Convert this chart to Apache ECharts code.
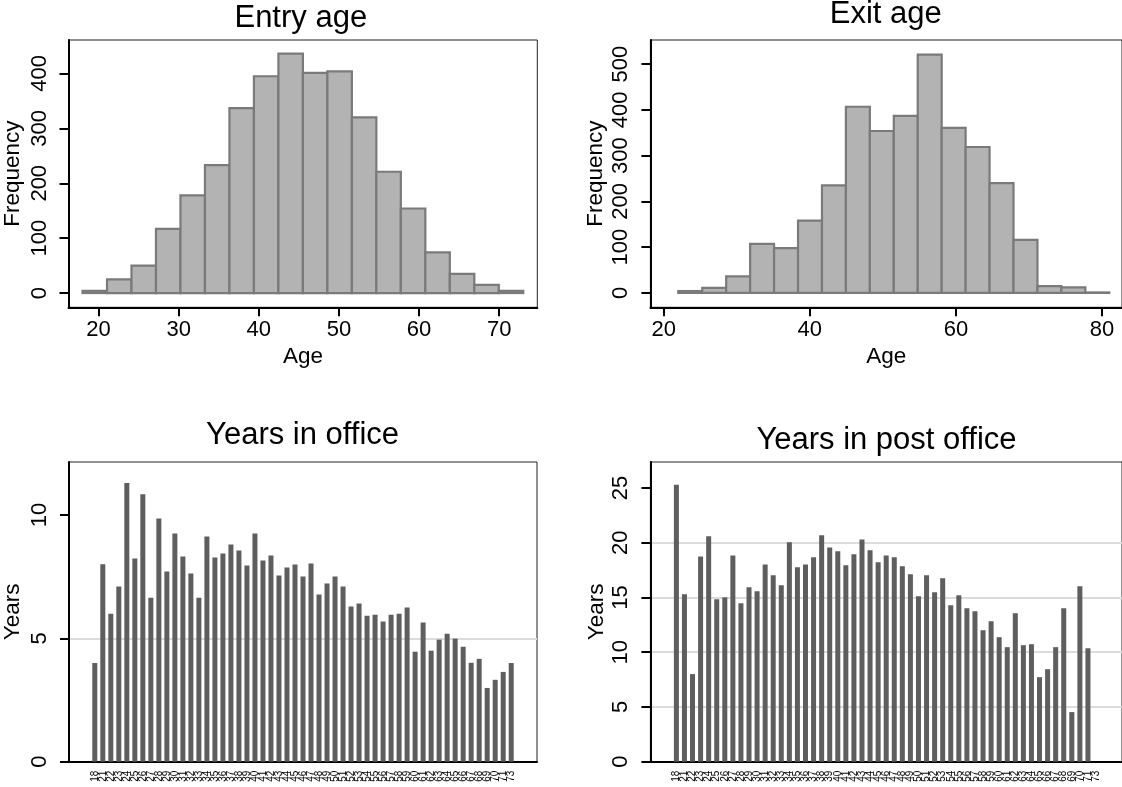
<!DOCTYPE html>
<html>
<head>
<meta charset="utf-8">
<script src="https://cdn.jsdelivr.net/npm/echarts@6/dist/echarts.min.js"></script>
<style>
  html, body { margin: 0; padding: 0; background: #fff; }
  #chart { width: 1122px; height: 787px; }
</style>
</head>
<body>
<div id="chart"></div>
<script>
// ---- data ---------------------------------------------------------------
// Entry age histogram: 18 equal-width bins from 18 to 73
const entryBinStart = 18;
const entryBinEnd = 73;
const entryCounts = [4, 25, 50, 117, 178, 233, 337, 395, 436, 401, 404, 320, 221, 154, 74, 35, 15, 4];
const entryAgeTicks = [20, 30, 40, 50, 60, 70];
const entryFreqTicks = [0, 100, 200, 300, 400];

// Exit age histogram: 18 equal-width bins from 22 to 81
const exitBinStart = 22;
const exitBinEnd = 81;
const exitCounts = [4, 11, 36, 107, 98, 158, 235, 407, 354, 387, 521, 361, 319, 240, 116, 15, 12, 1];
const exitAgeTicks = [20, 40, 60, 80];
const exitFreqTicks = [0, 100, 200, 300, 400, 500];

// Age groups shared by both bar panels
const ageGroups = ['18', '21', '22', '23', '24', '25', '26', '27', '28', '29', '30', '31', '32', '33', '34',
  '35', '36', '37', '38', '39', '40', '41', '42', '43', '44', '45', '46', '47', '48', '49', '50', '51', '52',
  '53', '54', '55', '56', '57', '58', '59', '60', '61', '62', '63', '64', '65', '66', '67', '68', '69', '70',
  '71', '73'];

// Mean years in office per age group
const officeYears = [4.0, 8.0, 6.0, 7.1, 11.3, 8.24, 10.84, 6.65, 9.86, 7.71, 9.25, 8.32, 7.63, 6.65, 9.13,
  8.28, 8.44, 8.81, 8.56, 7.95, 9.25, 8.16, 8.36, 7.55, 7.87, 7.99, 7.51, 8.04, 6.78, 7.22, 7.51, 7.1, 6.29,
  6.41, 5.92, 5.96, 5.68, 5.96, 6.0, 6.25, 4.46, 5.64, 4.5, 4.95, 5.19, 4.99, 4.66, 4.01, 4.17, 2.99, 3.32,
  3.64, 4.0];
const officeYearTicks = [0, 5, 10];

// Mean years in post office per age group (no value for the last group)
const postYears = [25.3, 15.3, 8.0, 18.75, 20.58, 14.83, 15.02, 18.84, 14.47, 15.93, 15.56, 18.02, 17.02,
  16.11, 20.03, 17.75, 18.02, 18.66, 20.67, 19.57, 19.21, 17.93, 18.94, 20.3, 19.3, 18.21, 18.84, 18.66,
  17.84, 17.11, 15.11, 17.02, 15.47, 16.75, 14.29, 15.2, 14.01, 13.74, 12.0, 12.83, 11.37, 10.46, 13.56,
  10.64, 10.73, 7.72, 8.45, 10.46, 14.01, 4.53, 16.02, 10.36, null];
const postYearTicks = [0, 5, 10, 15, 20, 25];

// ---- helpers ------------------------------------------------------------
const FONT = '"Liberation Sans", Arial, Helvetica, sans-serif';
const INK = '#000';
const TICK_FONT = 22;
const NAME_FONT = 22.5;

function binsOf(start, end, counts) {
  const w = (end - start) / counts.length;
  return counts.map((c, i) => [start + i * w, start + (i + 1) * w, c]);
}

function histRender(params, api) {
  const lo = api.coord([api.value(0), api.value(2)]);
  const hi = api.coord([api.value(1), 0]);
  return {
    type: 'rect',
    shape: { x: lo[0], y: lo[1], width: hi[0] - lo[0], height: hi[1] - lo[1] },
    style: { fill: '#b3b3b3', stroke: '#7a7a7a', lineWidth: 2.2 }
  };
}

function frameGrid(left, top, width, height) {
  return { left, top, width, height, show: true, borderColor: '#222', borderWidth: 1, containLabel: false };
}

const tickStyle = { color: INK, width: 2 };
const axisLineStyle = { color: INK, width: 2 };

function valueX(gridIndex, min, max, ticks, name, nameGap) {
  return {
    gridIndex, type: 'value', min, max,
    axisLine: { show: true, onZero: false, lineStyle: axisLineStyle },
    axisTick: { show: true, length: 9, customValues: ticks, lineStyle: tickStyle },
    axisLabel: { customValues: ticks, color: INK, fontSize: TICK_FONT, fontFamily: FONT, margin: 12 },
    splitLine: { show: false },
    name, nameLocation: 'middle', nameGap,
    nameTextStyle: { color: INK, fontSize: NAME_FONT, fontFamily: FONT }
  };
}

function valueY(gridIndex, min, max, ticks, name, nameGap, grid) {
  const ax = {
    gridIndex, type: 'value', min, max,
    axisLine: { show: true, onZero: false, lineStyle: axisLineStyle },
    axisTick: { show: true, length: 9, customValues: ticks, lineStyle: tickStyle },
    axisLabel: { customValues: ticks, rotate: 90, color: INK, fontSize: TICK_FONT, fontFamily: FONT, margin: 18 },
    splitLine: { show: false },
    name, nameLocation: 'middle', nameGap, nameRotate: 90,
    nameTextStyle: { color: INK, fontSize: NAME_FONT, fontFamily: FONT }
  };
  if (grid) {
    ax.interval = 5;
    ax.splitLine = { show: true, showMinLine: false, showMaxLine: false, lineStyle: { color: '#dcdcdc', width: 2 } };
  }
  return ax;
}

// Age-group axis: one slot per group, slot i holds group i; blank end slots keep
// the edge-label overlap check away from the first and last real labels.
function categoryX(gridIndex, labels, pad) {
  const slots = [-Math.floor(pad)].concat(labels.map((_, i) => i), [labels.length - 1 + Math.floor(pad)]);
  return {
    gridIndex, type: 'value', min: -pad, max: labels.length - 1 + pad,
    axisLine: { show: true, onZero: false, lineStyle: axisLineStyle },
    axisTick: { show: false },
    axisLabel: {
      customValues: slots, rotate: 90, color: INK, fontSize: 10, fontFamily: FONT, margin: 9,
      hideOverlap: false,
      formatter: (v) => labels[Math.round(v)] ?? ''
    },
    splitLine: { show: false }
  };
}

function title(text, x, y) {
  return {
    type: 'text', x, y,
    style: { text, fill: INK, font: '31px ' + FONT, textAlign: 'center', textVerticalAlign: 'middle' }
  };
}

// ---- chart --------------------------------------------------------------
const option = {
  animation: false,
  backgroundColor: '#fff',
  grid: [
    frameGrid(64.3, 40, 473, 267.3),
    frameGrid(650.4, 40, 472, 267.3),
    frameGrid(64.3, 462, 472.7, 299.7),
    frameGrid(650.4, 462, 471.8, 299.7)
  ],
  xAxis: [
    valueX(0, 16.25, 74.75, entryAgeTicks, 'Age', 38),
    valueX(1, 18.18, 82.74, exitAgeTicks, 'Age', 38),
    categoryX(2, ageGroups, 3.22),
    categoryX(3, ageGroups, 3.22)
  ],
  yAxis: [
    valueY(0, -26, 461, entryFreqTicks, 'Frequency', 44.5, false),
    valueY(1, -31.5, 553, exitFreqTicks, 'Frequency', 43.6, false),
    valueY(2, 0, 12.15, officeYearTicks, 'Years', 45, true),
    valueY(3, 0, 27.37, postYearTicks, 'Years', 42.2, true)
  ],
  series: [
    {
      type: 'custom', xAxisIndex: 0, yAxisIndex: 0, clip: false,
      renderItem: histRender, encode: { x: [0, 1], y: 2 },
      data: binsOf(entryBinStart, entryBinEnd, entryCounts)
    },
    {
      type: 'custom', xAxisIndex: 1, yAxisIndex: 1, clip: false,
      renderItem: histRender, encode: { x: [0, 1], y: 2 },
      data: binsOf(exitBinStart, exitBinEnd, exitCounts)
    },
    {
      type: 'bar', xAxisIndex: 2, yAxisIndex: 2, barWidth: 5,
      itemStyle: { color: '#5e5e5e' },
      data: officeYears.map((v, i) => [i, v])
    },
    {
      type: 'bar', xAxisIndex: 3, yAxisIndex: 3, barWidth: 5,
      itemStyle: { color: '#5e5e5e' },
      data: postYears.map((v, i) => [i, v])
    }
  ],
  graphic: [
    title('Entry age', 300.8, 18.3),
    title('Exit age', 885.8, 14.2),
    title('Years in office', 302.6, 435.5),
    title('Years in post office', 886.5, 440)
  ]
};

const chart = echarts.init(document.getElementById('chart'), null, { renderer: 'canvas' });
chart.setOption(option);
</script>
</body>
</html>
